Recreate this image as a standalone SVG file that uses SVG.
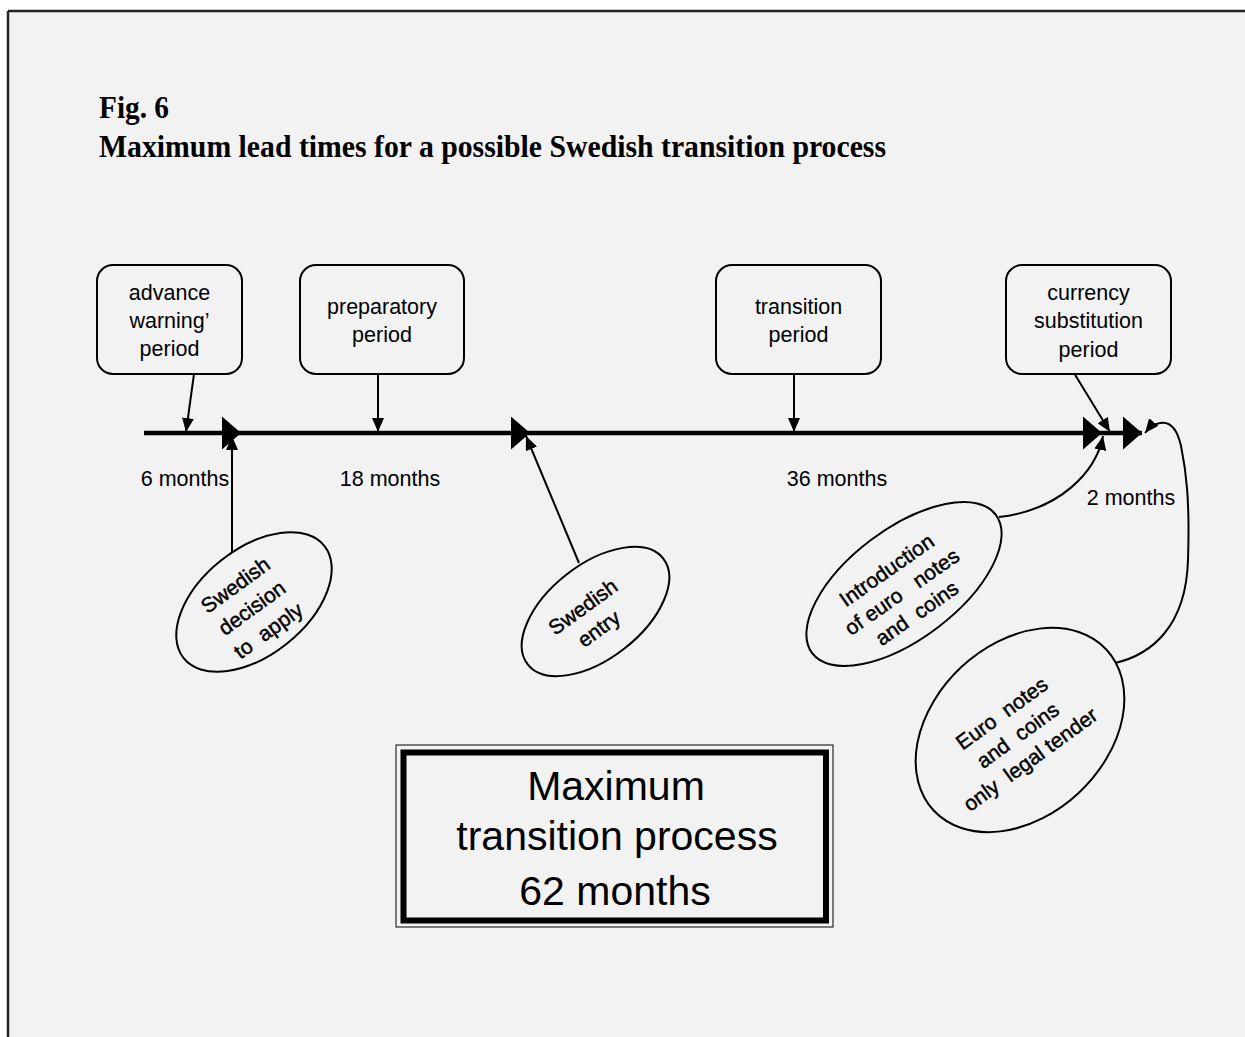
<svg xmlns="http://www.w3.org/2000/svg" width="1245" height="1037" viewBox="0 0 1245 1037">
<style>
  .lbl { font-family: "Liberation Sans", Arial, sans-serif; font-size: 21.5px; fill: #000; text-anchor: middle; }
  .ell { font-family: "Liberation Sans", Arial, sans-serif; font-size: 21px; fill: #000; stroke: #000; stroke-width: 0.45; text-anchor: middle; }
  .title { font-family: "Liberation Serif", "Times New Roman", serif; font-weight: bold; font-size: 31px; fill: #000; }
  .box { fill: #f2f2f2; stroke: #000; stroke-width: 2; }
  .oval { fill: #f2f2f2; stroke: #000; stroke-width: 2; }
  .con { fill: none; stroke: #000; stroke-width: 2; }
  .tl { fill: none; stroke: #000; stroke-width: 4.5; }
  .big { font-family: "Liberation Sans", Arial, sans-serif; font-size: 41px; fill: #000; text-anchor: middle; }
</style>
<defs>
  <marker id="arr" markerUnits="userSpaceOnUse" markerWidth="14" markerHeight="12" viewBox="0 0 14 12" refX="14" refY="6" orient="auto">
    <path d="M0,0 L14,6 L0,12 z" fill="#000"/>
  </marker>
  <marker id="tri" markerUnits="userSpaceOnUse" markerWidth="19" markerHeight="33" viewBox="0 0 19 33" refX="19" refY="16.5" orient="auto">
    <path d="M0,0 L19,16.5 L0,33 z" fill="#000"/>
  </marker>
</defs>
<rect x="0" y="0" width="1245" height="1037" fill="#ffffff"/>
<rect x="8" y="11" width="1237" height="1026" fill="#f2f2f2"/>
<path d="M8,11 H1245 M8,11 V1037" fill="none" stroke="#222" stroke-width="2.5"/>

<g id="title">
  <text class="title" x="99" y="118" textLength="70" lengthAdjust="spacingAndGlyphs">Fig. 6</text>
  <text class="title" x="99" y="157" textLength="787" lengthAdjust="spacingAndGlyphs">Maximum lead times for a possible Swedish transition process</text>
</g>

<g id="connectors">
  <path class="tl" d="M144,433 L241,433" marker-end="url(#tri)"/>
  <path class="tl" d="M241,433 L530,433" marker-end="url(#tri)"/>
  <path class="tl" d="M530,433 L1102,433" marker-end="url(#tri)"/>
  <path class="tl" d="M1102,433 L1142,433" marker-end="url(#tri)"/>
  <path class="con" d="M194,374 L186,432" marker-end="url(#arr)"/>
  <path class="con" d="M378,374 L378,432" marker-end="url(#arr)"/>
  <path class="con" d="M794,374 L794,432" marker-end="url(#arr)"/>
  <path class="con" d="M1074,373 L1110,432" marker-end="url(#arr)"/>
  <path class="con" d="M232,553 L232,436" marker-end="url(#arr)"/>
  <path class="con" d="M579,563 L526,436" marker-end="url(#arr)"/>
  <path class="con" d="M999,517 C1060,510 1096,472 1103,436" marker-end="url(#arr)"/>
  <path class="con" d="M1115,663 C1150,655 1186,628 1188,560 C1190,500 1186,470 1181,446 C1177,428 1170,421 1160,423 C1154,424 1149,428 1145,433" marker-end="url(#arr)"/>
</g>

<g id="node-advance">
  <rect class="box" x="97" y="265" width="145" height="109" rx="16"/>
  <text class="lbl" x="169.5" y="300">advance</text>
  <text class="lbl" x="169.5" y="328">warning’</text>
  <text class="lbl" x="169.5" y="356">period</text>
</g>
<g id="node-preparatory">
  <rect class="box" x="300" y="265" width="164" height="109" rx="16"/>
  <text class="lbl" x="382" y="314">preparatory</text>
  <text class="lbl" x="382" y="342">period</text>
</g>
<g id="node-transition">
  <rect class="box" x="716" y="265" width="165" height="109" rx="16"/>
  <text class="lbl" x="798.5" y="314">transition</text>
  <text class="lbl" x="798.5" y="342">period</text>
</g>
<g id="node-currency">
  <rect class="box" x="1006" y="265" width="165" height="109" rx="16"/>
  <text class="lbl" x="1088.5" y="300">currency</text>
  <text class="lbl" x="1088.5" y="328">substitution</text>
  <text class="lbl" x="1088.5" y="357">period</text>
</g>

<g id="labels">
  <text class="lbl" x="185" y="486">6 months</text>
  <text class="lbl" x="390" y="486">18 months</text>
  <text class="lbl" x="837" y="486">36 months</text>
  <text class="lbl" x="1131" y="505">2 months</text>
</g>

<g id="node-decision">
  <ellipse class="oval" cx="254" cy="602" rx="90" ry="53" transform="rotate(-38.6 254 602)"/>
  <g transform="translate(252,608) rotate(-36)">
    <text class="ell" x="0" y="-21">Swedish</text>
    <text class="ell" x="0" y="7">decision</text>
    <text class="ell" x="0" y="35" xml:space="preserve">to  apply</text>
  </g>
</g>
<g id="node-entry">
  <ellipse class="oval" cx="595.5" cy="611.5" rx="86" ry="47" transform="rotate(-38 595.5 611.5)"/>
  <g transform="translate(591,618) rotate(-36)">
    <text class="ell" x="0" y="-6.5">Swedish</text>
    <text class="ell" x="0" y="20.5">entry</text>
  </g>
</g>
<g id="node-introduction">
  <ellipse class="oval" cx="904" cy="584" rx="115" ry="55" transform="rotate(-37 904 584)"/>
  <g transform="translate(902,592) rotate(-35)">
    <text class="ell" x="0" y="-19.5">Introduction</text>
    <text class="ell" x="0" y="7" xml:space="preserve">of euro   notes</text>
    <text class="ell" x="0" y="33" xml:space="preserve">and  coins</text>
  </g>
</g>
<g id="node-euro">
  <ellipse class="oval" cx="1020" cy="730" rx="118" ry="86" transform="rotate(-43 1020 730)"/>
  <g transform="translate(1019,737) rotate(-36)">
    <text class="ell" x="0" y="-22" xml:space="preserve">Euro  notes</text>
    <text class="ell" x="0" y="5" xml:space="preserve">and  coins</text>
    <text class="ell" x="-4" y="32" xml:space="preserve">only  legal tender</text>
  </g>
</g>

<g id="node-summary">
  <rect x="396" y="745" width="437" height="182" fill="none" stroke="#000" stroke-width="1"/>
  <rect x="403.5" y="752.5" width="422.5" height="168" fill="none" stroke="#000" stroke-width="6"/>
  <text class="big" x="616" y="800">Maximum</text>
  <text class="big" x="617" y="850">transition process</text>
  <text class="big" x="615" y="905">62 months</text>
</g>
</svg>
